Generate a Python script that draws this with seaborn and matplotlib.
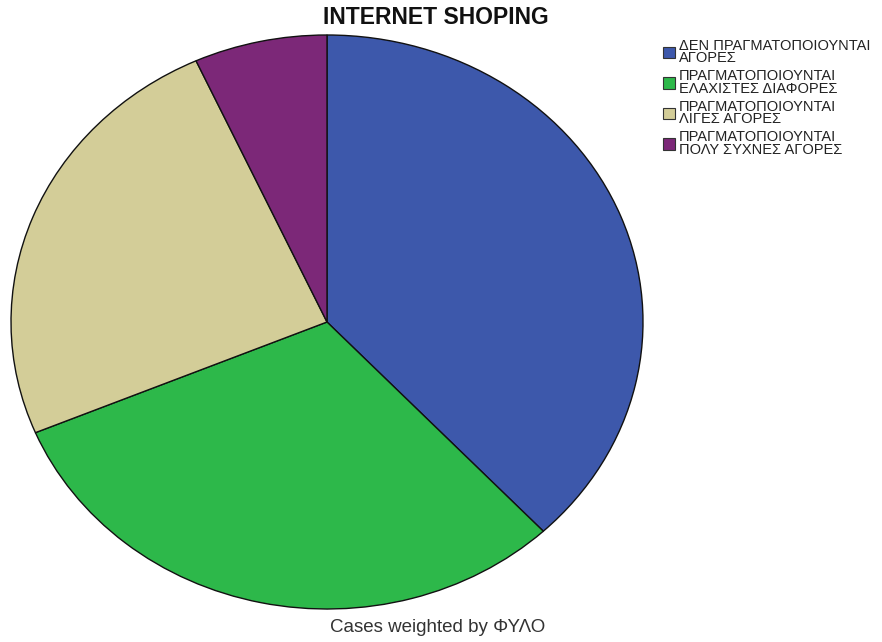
import matplotlib
matplotlib.use("Agg")
import matplotlib.pyplot as plt
from matplotlib.patches import Patch
import seaborn as sns

# Share of respondents by online shopping frequency (%)
categories = [
    "ΔΕΝ ΠΡΑΓΜΑΤΟΠΟΙΟΥΝΤΑΙ\nΑΓΟΡΕΣ",
    "ΠΡΑΓΜΑΤΟΠΟΙΟΥΝΤΑΙ\nΕΛΑΧΙΣΤΕΣ ΔΙΑΦΟΡΕΣ",
    "ΠΡΑΓΜΑΤΟΠΟΙΟΥΝΤΑΙ\nΛΙΓΕΣ ΑΓΟΡΕΣ",
    "ΠΡΑΓΜΑΤΟΠΟΙΟΥΝΤΑΙ\nΠΟΛΥ ΣΥΧΝΕΣ ΑΓΟΡΕΣ",
]
shares = [38.0, 30.7, 24.5, 6.8]
colors = ["#3D58AB", "#2DB84A", "#D3CD98", "#7C2878"]

sns.set_theme(style="white")
plt.rcParams["font.family"] = ["Liberation Sans", "DejaVu Sans"]

palette = sns.color_palette(colors)

fig = plt.figure(figsize=(8.82, 6.42), dpi=100)
fig.patch.set_facecolor("white")

W, H = 882, 642
# Axes sized to the (slightly elliptical) pie footprint
ax = fig.add_axes([11 / W, (H - 609) / H, 632 / W, 574 / H])
wedges, _ = ax.pie(
    shares,
    colors=palette,
    startangle=90,
    counterclock=False,
    wedgeprops=dict(edgecolor="#111111", linewidth=1.0),
)
ax.set_aspect("auto")
ax.set_xlim(-1.0, 1.0)
ax.set_ylim(-1.0, 1.0)
ax.axis("off")

fig.text(436 / W, 1 - 18 / H, "INTERNET SHOPING", ha="center", va="center",
         fontsize=16.5, fontweight="bold", color="#111111")
fig.text(438 / W, 1 - 627 / H, "Cases weighted by ΦΥΛΟ", ha="center", va="center",
         fontsize=13.5, color="#333333")

handles = [Patch(facecolor=c, edgecolor="#333333", linewidth=0.8) for c in palette]
leg = fig.legend(
    handles, categories,
    loc="upper left",
    bbox_to_anchor=(663 / W, 1 - 39 / H),
    frameon=False,
    fontsize=10.5,
    handlelength=0.85,
    handleheight=0.85,
    handletextpad=0.25,
    labelspacing=0.28,
    borderaxespad=0,
    borderpad=0,
)
for t in leg.get_texts():
    t.set_color("#222222")
    t.set_linespacing(0.85)

fig.savefig("out.png", dpi=100, facecolor="white")
